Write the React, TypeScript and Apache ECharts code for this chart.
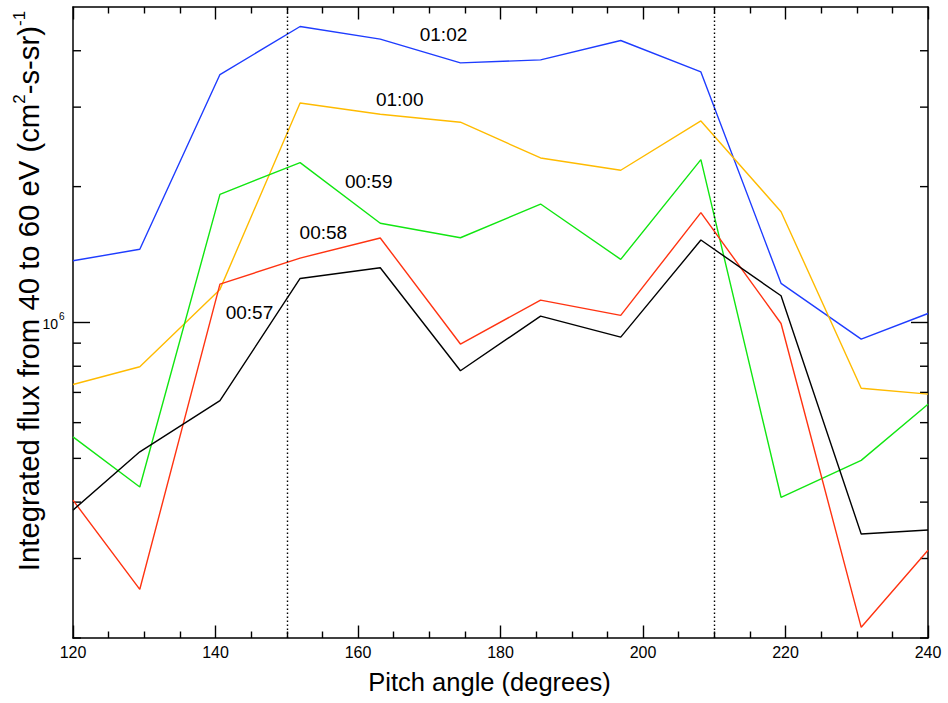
import React, { useEffect, useRef } from "react";
import * as echarts from "echarts";

const pitchAngles = [120, 129.375, 140.625, 151.875, 163.125, 174.375, 185.625, 196.875, 208.125, 219.375, 230.625, 240];

const flux0102 = [1.37e6, 1.453e6, 3.542e6, 4.526e6, 4.244e6, 3.76e6, 3.818e6, 4.214e6, 3.591e6, 1.221e6, 0.919e6, 1.047e6];
const flux0100 = [7.29e5, 7.98e5, 1.184e6, 3.065e6, 2.893e6, 2.778e6, 2.315e6, 2.174e6, 2.796e6, 1.76e6, 7.15e5, 6.94e5];
const flux0059 = [5.58e5, 4.32e5, 1.923e6, 2.261e6, 1.659e6, 1.541e6, 1.83e6, 1.38e6, 2.295e6, 4.1e5, 4.95e5, 6.59e5];
const flux0058 = [4.04e5, 2.564e5, 1.216e6, 1.389e6, 1.539e6, 8.96e5, 1.121e6, 1.037e6, 1.751e6, 9.95e5, 2.112e5, 3.13e5];
const flux0057 = [3.84e5, 5.17e5, 6.71e5, 1.252e6, 1.322e6, 7.82e5, 1.033e6, 9.28e5, 1.523e6, 1.146e6, 3.4e5, 3.47e5];

const seriesNames = ["01:02", "01:00", "00:59", "00:58", "00:57"];
const seriesColors = ["#1e3cff", "#ffbb00", "#11e611", "#ff3311", "#000000"];
// label anchor (pitch angle, flux) for each time tag
const labelX = [172.0, 165.85, 161.5, 155.14, 144.76];
const labelY = [4.338e6, 3.124e6, 2.051e6, 1.584e6, 1.051e6];

const dottedLines = [150, 210];
const xTickValues = [120, 140, 160, 180, 200, 220, 240];
const yTickValues = [2e5, 3e5, 4e5, 5e5, 6e5, 7e5, 8e5, 9e5, 1e6, 2e6, 3e6, 4e6];
const yMajorTick = 1e6;
const yMajorBase = "10";
const yMajorExponent = "6";

const X_MIN = 120;
const X_MAX = 240;
const Y_MIN = 2e5;
const Y_MAX = 5e6;

const FONT = "'Liberation Sans', Arial, Helvetica, sans-serif";

export default function App() {
  const ref = useRef<HTMLDivElement>(null);

  useEffect(() => {
    if (!ref.current) return;
    const chart = echarts.init(ref.current, undefined, { renderer: "svg" });
    const fluxes = [flux0102, flux0100, flux0059, flux0058, flux0057];

    const lineSeries: any[] = fluxes.map((arr, i) => ({
      type: "line",
      name: seriesNames[i],
      data: pitchAngles.map((x, j) => [x, arr[j]]),
      showSymbol: false,
      symbol: "none",
      lineStyle: { color: seriesColors[i], width: 1.4 },
      itemStyle: { color: seriesColors[i] },
      z: 3,
      markPoint: {
        symbol: "circle",
        symbolSize: 0,
        silent: true,
        data: [{ coord: [labelX[i], labelY[i]], name: seriesNames[i], value: seriesNames[i] }],
        label: {
          show: true,
          position: "inside",
          formatter: seriesNames[i],
          color: "#000",
          fontSize: 19,
          fontFamily: FONT,
        },
      },
    }));

    lineSeries[4].markLine = {
      symbol: ["none", "none"],
      silent: true,
      label: { show: false },
      lineStyle: { color: "#000", width: 1.4, type: [1.4, 2.6] },
      data: dottedLines.map((v) => ({ xAxis: v })),
    };

    const tickSeries = {
      type: "custom",
      coordinateSystem: "cartesian2d",
      clip: false,
      silent: true,
      data: yTickValues.map((v) => [X_MIN, v]),
      renderItem: (params: any, api: any) => {
        const v = api.value(1);
        const pL = api.coord([X_MIN, v]);
        const pR = api.coord([X_MAX, v]);
        const major = Math.abs(v - yMajorTick) < 1;
        const len = major ? 17 : 8;
        const children: any[] = [
          {
            type: "line",
            shape: { x1: pL[0], y1: pL[1], x2: pL[0] + len, y2: pL[1] },
            style: { stroke: "#000", lineWidth: 1.4 },
          },
          {
            type: "line",
            shape: { x1: pR[0] - len, y1: pR[1], x2: pR[0], y2: pR[1] },
            style: { stroke: "#000", lineWidth: 1.4 },
          },
        ];
        if (major) {
          children.push({
            type: "text",
            x: pL[0] - 15,
            y: pL[1] + 1,
            style: {
              text: yMajorBase,
              font: "14px " + FONT,
              fill: "#000",
              align: "right",
              verticalAlign: "middle",
            },
          });
          children.push({
            type: "text",
            x: pL[0] - 14,
            y: pL[1] - 1,
            style: {
              text: yMajorExponent,
              font: "10px " + FONT,
              fill: "#000",
              align: "left",
              verticalAlign: "bottom",
            },
          });
        }
        return { type: "group", children };
      },
    };

    const xAxisCommon = {
      type: "value",
      min: X_MIN,
      max: X_MAX,
      interval: 20,
      splitLine: { show: false },
      axisLine: { show: true, onZero: false, lineStyle: { color: "#000", width: 1.5 } },
      axisTick: { show: true, inside: true, length: 12.5, lineStyle: { color: "#000", width: 1.4 } },
      minorTick: { show: true, splitNumber: 4, length: 6.5, lineStyle: { color: "#000", width: 1.4 } },
      minorSplitLine: { show: false },
    };

    chart.setOption({
      animation: false,
      backgroundColor: "#fff",
      grid: { left: 73, right: 20, top: 7, bottom: 65, containLabel: false },
      xAxis: [
        {
          ...xAxisCommon,
          position: "bottom",
          axisLabel: {
            show: true,
            color: "#000",
            fontSize: 16,
            fontFamily: FONT,
            margin: 6,
            customValues: xTickValues,
          },
          name: "Pitch angle (degrees)",
          nameLocation: "middle",
          nameGap: 31,
          nameTextStyle: { color: "#000", fontSize: 25.5, fontFamily: FONT, padding: [0, 22, 0, 0] },
        },
        {
          ...xAxisCommon,
          position: "top",
          axisLabel: { show: false },
        },
      ],
      yAxis: [
        {
          type: "log",
          logBase: 10,
          min: Y_MIN,
          max: Y_MAX,
          position: "left",
          splitLine: { show: false },
          axisLine: { show: true, onZero: false, lineStyle: { color: "#000", width: 1.5 } },
          axisTick: { show: false },
          axisLabel: { show: false },
        },
        {
          type: "log",
          logBase: 10,
          min: Y_MIN,
          max: Y_MAX,
          position: "right",
          splitLine: { show: false },
          axisLine: { show: true, onZero: false, lineStyle: { color: "#000", width: 1.5 } },
          axisTick: { show: false },
          axisLabel: { show: false },
        },
      ],
      graphic: [
        {
          type: "text",
          x: 27,
          y: 291,
          rotation: Math.PI / 2,
          style: {
            text: "{n|Integrated flux from 40 to 60 eV (cm}{s|2}{n|-s-sr)}{s|-1}",
            align: "center",
            verticalAlign: "middle",
            fill: "#000",
            rich: {
              n: { fontSize: 29.3, fontFamily: FONT, fill: "#000", lineHeight: 32, verticalAlign: "bottom" },
              s: { fontSize: 17, fontFamily: FONT, fill: "#000", lineHeight: 32, verticalAlign: "top" },
            },
          },
        },
      ],
      series: [...lineSeries, tickSeries],
    });

    return () => chart.dispose();
  }, []);

  return (
    <div
      ref={ref}
      style={{ position: "absolute", left: 0, top: 0, width: 948, height: 703, background: "#fff" }}
    />
  );
}
